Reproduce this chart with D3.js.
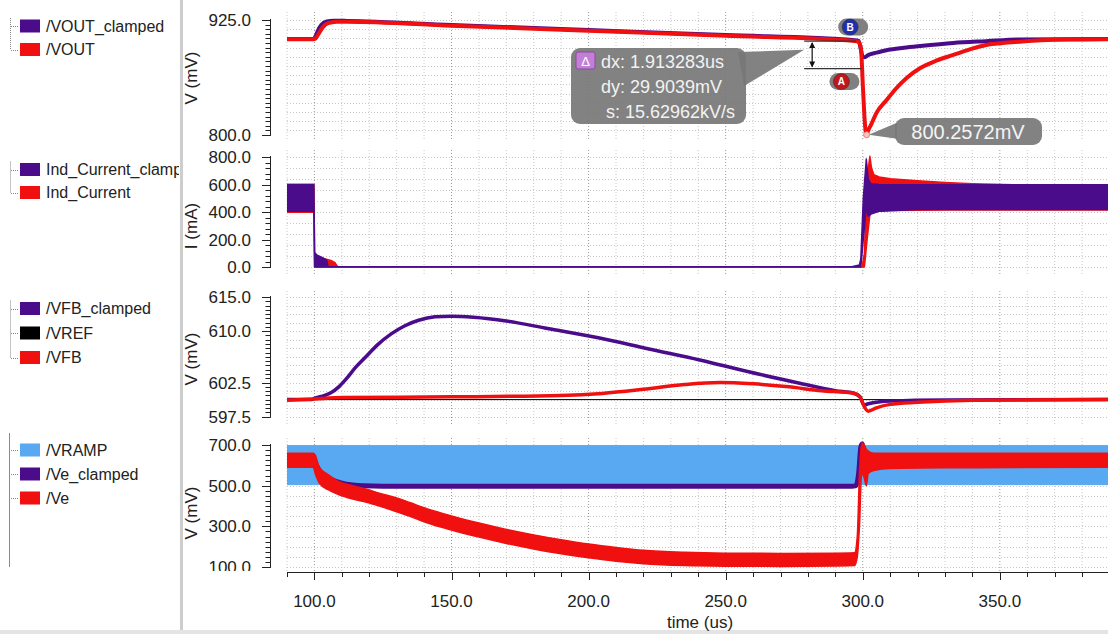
<!DOCTYPE html>
<html><head><meta charset="utf-8">
<script src="https://cdn.jsdelivr.net/npm/d3@7"></script>
<style>
body{margin:0;background:#fff}
svg{display:block}
text{font-family:"Liberation Sans",Arial,sans-serif}
</style>
</head><body>
<svg id="c" width="1108" height="634"></svg>
<script>
// ---- time axis ----
const timeDomain = [90, 390];
const timeTicks = [100, 150, 200, 250, 300, 350];
const timeLabels = ["100.0", "150.0", "200.0", "250.0", "300.0", "350.0"];

// ---- panel 1: output voltage (mV) ----
const voutTicks = [800, 925];
const voutTickLabels = ["800.0", "925.0"];
const VOUT_clamped = [[90,904.4],[99.6,904.4],[100.2,906],[101.2,913],[102.5,919.5],[104.5,923.3],[107,924.2],[112,924],[150,919.6],[200,914.1],[250,908.6],[297,903],[298.5,902.3],[299.3,893],[300,885],[300.7,884.5],[302,887],[305,889.5],[309,892.4],[315,894.8],[321,896.7],[333,900],[345,902],[357,903.8],[390,904.4]];
const VOUT = [[90,904],[99.6,904],[100.4,905],[101.5,910],[103,917],[105,921.5],[108,923],[112,923.2],[150,918.8],[200,913.3],[250,907.8],[297,902.2],[298.3,901.5],[299.3,895],[300.1,850],[300.8,812],[301.4,800.2572],[302,805],[303,811],[305,824],[308.7,838],[312,850],[316,862],[321,872.8],[327,881],[333,887],[339,893],[345,897.8],[351,900],[357,901.4],[365,903],[375,903.8],[390,904]];
// cursor readout
const cursorB = [297.6, 902.1];
const cursorDx = 1.913283;   // us
const cursorDy = 29.9039;    // mV
const cursorSlope = "15.62962kV/s";
const minPoint = [301.4, 800.2572];

// ---- panel 2: inductor current (mA), ripple envelopes [t, low, high] ----
const iTicks = [0, 200, 400, 600, 800];
const iTickLabels = ["0.0", "200.0", "400.0", "600.0", "800.0"];
const Ind_Current = [[90,398,600],[99.8,398,600],[100.1,0,60],[102,0,55],[104,0,58],[106,0,48],[107.5,0,32],[108.5,0,0.5],[299.8,0,0.5],[300.6,0,100],[301.6,200,650],[302.6,380,805],[303.2,400,720],[304,405,672],[306,405,655],[310,410,642],[320,412,628],[330,414,615],[340,415,606],[355,415,599],[390,415,598]];
const Ind_Current_clamped = [[90,405,600],[99.8,405,600],[100.05,0,105],[101,0,85],[103,0,68],[104.5,0,50],[105,0,1],[296,0,2],[298.8,0,15],[299.3,0,60],[300.2,200,500],[301.3,430,785],[302,370,640],[303,385,605],[306,405,600],[320,418,598],[390,418,598]];

// ---- panel 3: feedback voltage (mV) ----
const fbTicks = [597.5, 602.5, 610, 615];
const fbTickLabels = ["597.5", "602.5", "610.0", "615.0"];
const VREF = [[90,600],[390,600]];
const VFB_clamped = [[90,600],[99,600],[100,600.2],[103,600.5],[106,601],[109,601.9],[112,603.2],[115,604.7],[118.6,606.2],[123,608],[128,609.6],[133,610.8],[138,611.6],[144,612.1],[150,612.2],[158,612.05],[170,611.5],[185,610.4],[204,609],[222,607.4],[240.5,605.8],[258,604.1],[277,602.4],[290,601.3],[297,600.9],[299,600.4],[300.5,599.2],[302,599.4],[310,599.8],[330,599.95],[390,600]];
const VFB = [[90,599.9],[100,600.1],[110,600.3],[150,600.4],[190,600.6],[205,600.9],[220,601.5],[235,602.2],[248,602.5],[260,602.3],[272,601.9],[285,601.3],[297,600.9],[299,600.4],[300.5,599],[302,598.3],[305,598.8],[310,599.3],[320,599.6],[340,599.9],[390,600]];

// ---- panel 4: ramp and error amplifier (mV) ----
const veTicks = [100, 300, 500, 700];
const veTickLabels = ["100.0", "300.0", "500.0", "700.0"];
const VRAMP = [[90,505,697],[390,505,697]];
const Ve_clamped = [[90,625],[99.5,625],[100.5,605],[102,570],[104,545],[107,525],[110,512],[114,503],[118,499],[125,497],[200,497],[296,497],[297.5,500],[298.5,560],[299.3,690],[299.8,705],[300.5,640],[302,620],[390,620]];
const Ve = [[90,590,660],[99.6,590,660],[100.3,560,650],[101.8,513,590],[105,480,555],[109,455,520],[114,434,500],[119,418,482],[124,398,462],[130,372,440],[135,348,416],[141,318,387],[150,282,351],[160,247,316],[170,216,285],[180,189,258],[190,165,234],[200,145,213],[210,128,196],[220,116,182],[235,107,172],[250,104,168],[270,103,167],[290,105,168],[297,107,170],[298,150,250],[298.8,300,560],[299.6,560,710],[300.5,540,700],[301.3,500,680],[302,560,670],[304,575,660],[310,585,660],[330,588,660],[390,590,660]];

// ---- legend ----
const legend1 = ["/VOUT_clamped", "/VOUT"];
const legend2 = ["Ind_Current_clamped", "Ind_Current"];
const legend3 = ["/VFB_clamped", "/VREF", "/VFB"];
const legend4 = ["/VRAMP", "/Ve_clamped", "/Ve"];

const PURPLE = "#4b0c8c", RED = "#f01010", BLUE = "#58a9f2", BLACK = "#000";

const svg = d3.select("#c");
const X0 = 287, X1 = 1108;
const x = d3.scaleLinear().domain(timeDomain).range([X0, 1109.5]);

// left legend separator and bottom strip
svg.append("rect").attr("x", 180).attr("y", 0).attr("width", 3).attr("height", 634).attr("fill", "#cdcdcd");
svg.append("rect").attr("x", 0).attr("y", 630).attr("width", 1108).attr("height", 4).attr("fill", "#e4e4e4");

const panels = [
  {domain:[800,925], range:[135,20], g:[12,140], minor:5, grid:10, ticks:voutTicks, labels:voutTickLabels, name:"V (mV)", ly:78},
  {domain:[0,800], range:[267,157], g:[150,276], minor:40, grid:80, ticks:iTicks, labels:iTickLabels, name:"I (mA)", ly:226},
  {domain:[597.5,615], range:[416.7,297], g:[291,424], minor:0.625, grid:1.25, ticks:fbTicks, labels:fbTickLabels, name:"V (mV)", ly:359},
  {domain:[100,700], range:[567,445], g:[438,571], minor:25, grid:50, ticks:veTicks, labels:veTickLabels, name:"V (mV)", ly:513}
];

const defs = svg.append("defs");
panels.forEach((p, i) => {
  p.y = d3.scaleLinear().domain(p.domain).range(p.range);
  defs.append("clipPath").attr("id", "clip" + i)
    .append("rect").attr("x", X0).attr("y", p.g[0]).attr("width", X1 - X0).attr("height", p.g[1] - p.g[0]);
  const g = svg.append("g");
  // vertical grid every 10 us
  const vt = d3.range(90, 391, 10);
  g.selectAll(".vg").data(vt).join("line")
    .attr("x1", d => x(d)).attr("x2", d => x(d)).attr("y1", p.g[0]).attr("y2", p.g[1])
    .attr("stroke", d => d % 50 === 0 ? "#9a9a9a" : "#c8c8c8").attr("stroke-width", 1)
    .attr("stroke-dasharray", "1 2");
  // horizontal grid
  const [lo, hi] = d3.extent(p.domain);
  const hv = [];
  for (let v = hi; v >= lo - 1e-9; v -= p.grid) hv.push(v);
  for (let v = hi + p.grid; p.y(v) > p.g[0]; v += p.grid) hv.push(v);
  for (let v = lo - p.grid; p.y(v) < p.g[1]; v -= p.grid) hv.push(v);
  g.selectAll(".hg").data(hv).join("line")
    .attr("x1", X0).attr("x2", X1).attr("y1", d => Math.round(p.y(d)) + 0.5).attr("y2", d => Math.round(p.y(d)) + 0.5)
    .attr("stroke", "#c8c8c8").attr("stroke-dasharray", "1 2");
  // y axis ruler
  const ax = svg.append("g");
  const nMinor = Math.round((hi - lo) / p.minor);
  const mt = d3.range(0, nMinor + 1).map(k => lo + k * p.minor);
  ax.append("line").attr("x1", 270.5).attr("x2", 270.5).attr("y1", p.y(hi) - 1).attr("y2", p.y(lo) + 1).attr("stroke", "#222");
  ax.selectAll(".mt").data(mt).join("line")
    .attr("x1", d => p.ticks.some(t => Math.abs(t - d) < 1e-6) ? 262 : 265.5).attr("x2", 270.5)
    .attr("y1", d => Math.round(p.y(d)) + 0.5).attr("y2", d => Math.round(p.y(d)) + 0.5).attr("stroke", "#222");
  const lg = ax.append("g");
  if (i === 3) {
    defs.append("clipPath").attr("id", "lclip3").append("rect").attr("x", 180).attr("y", 430).attr("width", 100).attr("height", 141);
    lg.attr("clip-path", "url(#lclip3)");
  }
  lg.selectAll("text").data(p.ticks).join("text")
    .attr("x", 251).attr("y", d => p.y(d)).attr("dy", "0.36em").attr("text-anchor", "end")
    .attr("font-size", 17).attr("fill", "#222").text((d, k) => p.labels[k]);
  ax.append("text").attr("transform", `translate(197,${p.ly}) rotate(-90)`).attr("text-anchor", "middle")
    .attr("font-size", 17).attr("fill", "#222").text(p.name);
  p.plot = svg.append("g").attr("clip-path", `url(#clip${i})`);
});

function lineOf(p, data, color, w, smooth) {
  p.plot.append("path").datum(data)
    .attr("d", d3.line().x(d => x(d[0])).y(d => p.y(d[1])).curve(smooth ? d3.curveMonotoneX : d3.curveLinear))
    .attr("fill", "none").attr("stroke", color).attr("stroke-width", w).attr("stroke-linejoin", "round");
}
function bandOf(p, data, color, w, smooth) {
  p.plot.append("path").datum(data)
    .attr("d", d3.area().x(d => x(d[0])).y0(d => p.y(d[1])).y1(d => p.y(d[2])).curve(smooth ? d3.curveMonotoneX : d3.curveLinear))
    .attr("fill", color).attr("stroke", color).attr("stroke-width", w).attr("stroke-linejoin", "round");
}

const [p1, p2, p3, p4] = panels;
lineOf(p1, VOUT_clamped, PURPLE, 4, true);
lineOf(p1, VOUT, RED, 4, true);

bandOf(p2, Ind_Current, RED, 1.5);
bandOf(p2, Ind_Current_clamped, PURPLE, 1.5);

lineOf(p3, VREF, BLACK, 1);
lineOf(p3, VFB_clamped, PURPLE, 3.5, true);
lineOf(p3, VFB, RED, 3.5, true);

bandOf(p4, VRAMP, BLUE, 1);
lineOf(p4, Ve_clamped, PURPLE, 5, true);
bandOf(p4, Ve, RED, 1.5, true);

// ---- time axis ----
const xa = svg.append("g");
xa.append("line").attr("x1", X0).attr("x2", X1).attr("y1", 572.5).attr("y2", 572.5).attr("stroke", "#222");
xa.selectAll(".xt").data(d3.range(90, 391, 10)).join("line")
  .attr("x1", d => Math.round(x(d)) + 0.5).attr("x2", d => Math.round(x(d)) + 0.5)
  .attr("y1", 572.5).attr("y2", d => d % 50 === 0 ? 580 : 577).attr("stroke", "#222");
xa.selectAll("text").data(timeTicks).join("text")
  .attr("x", d => x(d)).attr("y", 601).attr("dy", "0.36em").attr("text-anchor", "middle")
  .attr("font-size", 17).attr("fill", "#222").text((d, k) => timeLabels[k]);
xa.append("text").attr("x", 700).attr("y", 622).attr("dy", "0.36em").attr("text-anchor", "middle")
  .attr("font-size", 17).attr("fill", "#222").text("time (us)");

// ---- legend ----
defs.append("clipPath").attr("id", "legclip").append("rect").attr("x", 0).attr("y", 0).attr("width", 179).attr("height", 634);
const lgd = svg.append("g").attr("clip-path", "url(#legclip)");
const groups = [
  {names: legend1, colors: [PURPLE, RED], y0: 26, dy: 23.5, solid: false},
  {names: legend2, colors: [PURPLE, RED], y0: 169.5, dy: 23, solid: false},
  {names: legend3, colors: [PURPLE, BLACK, RED], y0: 308.5, dy: 24.5, solid: false},
  {names: legend4, colors: [BLUE, PURPLE, RED], y0: 450, dy: 24, solid: true}
];
groups.forEach(gr => {
  const ys = gr.names.map((n, k) => gr.y0 + k * gr.dy);
  if (gr.solid) {
    lgd.append("line").attr("x1", 9.5).attr("x2", 9.5).attr("y1", 433).attr("y2", 567).attr("stroke", "#8a8a8a");
  } else {
    lgd.append("line").attr("x1", 10.5).attr("x2", 10.5).attr("y1", ys[0] - 8).attr("y2", ys[ys.length - 1])
      .attr("stroke", "#888").attr("stroke-dasharray", "1 1");
  }
  ys.forEach((yy, k) => {
    lgd.append("line").attr("x1", 11).attr("x2", 18).attr("y1", Math.round(yy) + 0.5).attr("y2", Math.round(yy) + 0.5)
      .attr("stroke", "#888").attr("stroke-dasharray", "1 1");
    lgd.append("rect").attr("x", 20).attr("y", yy - 6.5).attr("width", 20).attr("height", 13).attr("fill", gr.colors[k]);
    lgd.append("text").attr("x", 46).attr("y", yy).attr("dy", "0.36em").attr("font-size", 16).attr("fill", "#222").text(gr.names[k]);
  });
});

// ---- cursors and readouts (panel 1) ----
const ann = svg.append("g");
const bx = x(cursorB[0]), by = p1.y(cursorB[1]);
const ax_ = x(cursorB[0] + cursorDx), ay = p1.y(cursorB[1] - cursorDy);
const brX = bx - 44;
ann.append("line").attr("x1", brX - 8).attr("x2", bx).attr("y1", by).attr("y2", by).attr("stroke", "#333").attr("stroke-width", 1.2);
ann.append("line").attr("x1", brX - 8).attr("x2", ax_).attr("y1", ay).attr("y2", ay).attr("stroke", "#333").attr("stroke-width", 1.2);
ann.append("line").attr("x1", brX).attr("x2", brX).attr("y1", by + 2).attr("y2", ay - 2).attr("stroke", "#111").attr("stroke-width", 1.2);
ann.append("path").attr("d", `M${brX},${by+1}l-3,6h6z M${brX},${ay-1}l-3,-6h6z`).attr("fill", "#111");

// delta readout bubble
const tipX = brX - 8, tipY = (by + ay) / 2 - 5;
const box = {x: 571, y: 48, w: 175, h: 76};
ann.append("path").attr("d", `M${box.x + box.w - 8},${box.y + 4} L${tipX},${tipY} L${box.x + box.w - 2},${box.y + 38}Z`).attr("fill", "#777").attr("opacity", 0.92);
ann.append("rect").attr("x", box.x).attr("y", box.y).attr("width", box.w).attr("height", box.h).attr("rx", 9)
  .attr("fill", "#777").attr("opacity", 0.92);
ann.append("rect").attr("x", 576).attr("y", 52).attr("width", 19).attr("height", 17).attr("rx", 2)
  .attr("fill", "#c27fd6").attr("stroke", "#8e4aa0");
ann.append("text").attr("x", 585.5).attr("y", 61).attr("dy", "0.36em").attr("text-anchor", "middle")
  .attr("font-size", 13).attr("fill", "#fff").text("Δ");
const rl = [["dx: " + cursorDx + "us", 601, 62], ["dy: " + cursorDy + "mV", 601, 87], ["s: " + cursorSlope, 606, 112]];
ann.selectAll(".rt").data(rl).join("text").attr("x", d => d[1]).attr("y", d => d[2]).attr("dy", "0.36em")
  .attr("font-size", 18).attr("fill", "#f2f2f2").text(d => d[0]);

// cursor badges
function badge(cx, cy, letter, fill) {
  ann.append("rect").attr("x", cx - 12).attr("y", cy - 8.5).attr("width", 30).attr("height", 17).attr("rx", 8.5).attr("fill", "#808080");
  ann.append("circle").attr("cx", cx).attr("cy", cy).attr("r", 8).attr("fill", fill).attr("stroke", "#333").attr("stroke-width", 0.6);
  ann.append("text").attr("x", cx).attr("y", cy).attr("dy", "0.36em").attr("text-anchor", "middle")
    .attr("font-size", 10).attr("font-weight", "bold").attr("fill", "#fff").text(letter);
}
badge(bx - 6, by - 14, "B", "#1f2fb0");
badge(ax_ - 20, ay + 13, "A", "#c0161c");

// minimum readout
const mx = x(minPoint[0]), my = p1.y(minPoint[1]);
ann.append("path").attr("d", `M${mx + 2},${my} L897,${my - 12} L897,${my + 4}Z`).attr("fill", "#777").attr("opacity", 0.92);
ann.append("rect").attr("x", 895).attr("y", 118).attr("width", 147).attr("height", 27).attr("rx", 9).attr("fill", "#777").attr("opacity", 0.92);
ann.append("text").attr("x", 968).attr("y", 132).attr("dy", "0.36em").attr("text-anchor", "middle")
  .attr("font-size", 20).attr("fill", "#f4f4f4").text(minPoint[1].toFixed(4) + "mV");
ann.append("circle").attr("cx", mx).attr("cy", my).attr("r", 3).attr("fill", "#f7c4c4").attr("stroke", "#e66").attr("stroke-width", 0.8);
</script>
</body></html>
